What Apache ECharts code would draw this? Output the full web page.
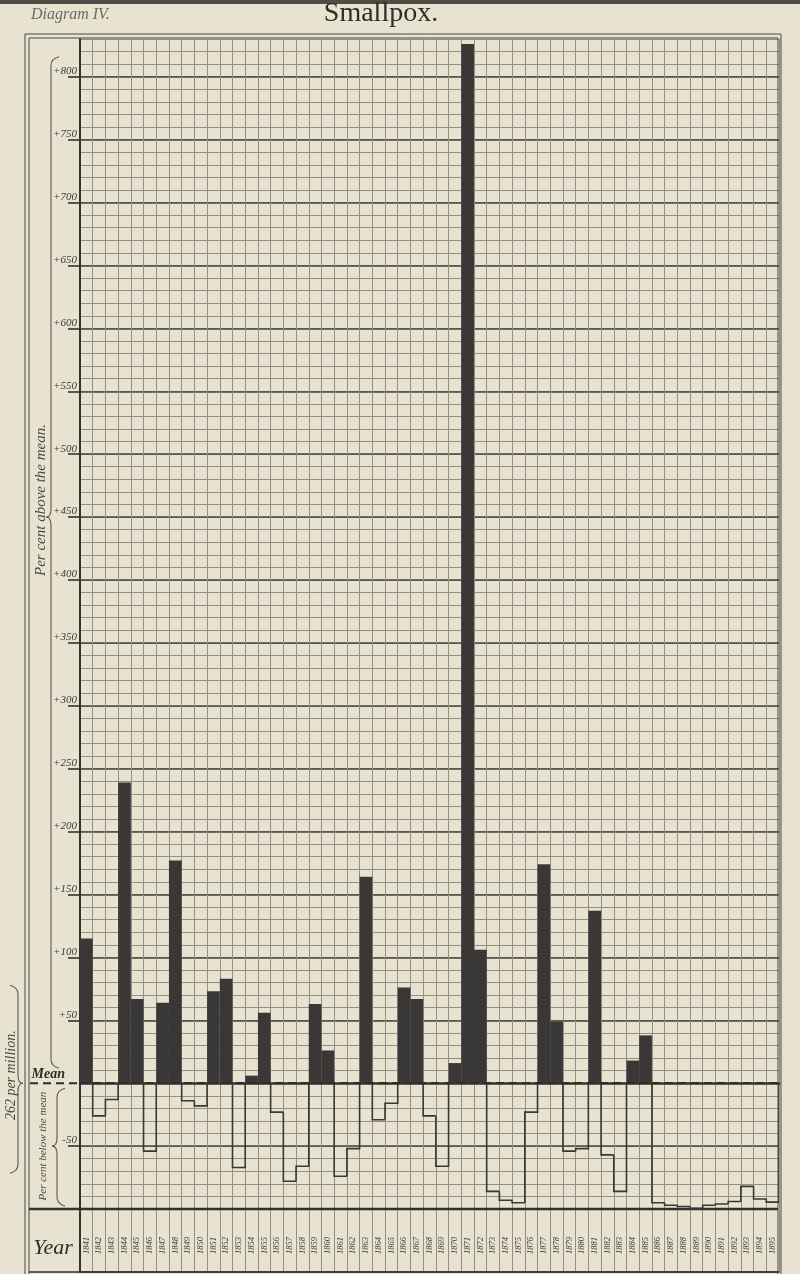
<!DOCTYPE html>
<html><head><meta charset="utf-8">
<script src="https://cdn.jsdelivr.net/npm/echarts@6/dist/echarts.min.js"></script>
<style>html,body{margin:0;padding:0;background:#e8e2d1;}#c{width:800px;height:1274px;}</style>
</head><body><div id="c"></div>
<script>
// ---- data ----
const years = ['1841','1842','1843','1844','1845','1846','1847','1848','1849','1850',
  '1851','1852','1853','1854','1855','1856','1857','1858','1859','1860',
  '1861','1862','1863','1864','1865','1866','1867','1868','1869','1870',
  '1871','1872','1873','1874','1875','1876','1877','1878','1879','1880',
  '1881','1882','1883','1884','1885','1886','1887','1888','1889','1890',
  '1891','1892','1893','1894','1895'];
// per cent above (+) or below (-) the mean of 262 per million
const pctFromMean = [115,-26,-13,239,67,-54,64,177,-14,-18,
  73,83,-67,6,56,-23,-78,-66,63,26,
  -74,-52,164,-29,-16,76,67,-26,-66,16,
  826,106,-86,-93,-95,-23,174,49,-54,-52,
  137,-57,-86,18,38,-95,-97,-98,-99.5,-97,
  -96,-94,-82,-92,-94.5];
const yLabelValues = [-50,0,50,100,150,200,250,300,350,400,450,500,550,600,650,700,750,800];
const yTickValues = [-50,50,100,150,200,250,300,350,400,450,500,550,600,650,700,750,800];
const title = 'Smallpox.';
const diagramLabel = 'Diagram IV.';

// ---- derived ----
const barData = pctFromMean.map(v => v >= 0 ? v : '-');
const stepData = pctFromMean.map((v, i) => [
  i, v,
  i > 0 ? Math.min(pctFromMean[i-1], 0) : 0,
  i < pctFromMean.length - 1 ? Math.min(pctFromMean[i+1], 0) : 0
]);

const INK = '#34312e';
const GRIDC = '#938d83';
const SERIF = '"Liberation Serif", "DejaVu Serif", serif';

const chart = echarts.init(document.getElementById('c'), null, {renderer:'canvas'});
chart.setOption({
  backgroundColor: '#e8e2d1',
  animation: false,
  grid: [
    {left: 80, right: 21, top: 39, bottom: 65},
    {left: 80, right: 21, top: 1210, height: 62}
  ],
  xAxis: [
    {type:'category', gridIndex:0, data: years, boundaryGap: true,
     axisLine:{show:true, lineStyle:{color:INK, width:2.5}},
     axisTick:{show:false}, axisLabel:{show:false},
     splitLine:{show:true, interval:0, lineStyle:{color:GRIDC, width:1}}},
    {type:'category', gridIndex:1, data: years, boundaryGap: true,
     axisLine:{show:true, lineStyle:{color:INK, width:1.5}},
     axisTick:{show:false},
     axisLabel:{show:true, interval:0, rotate:90, inside:true, margin:18,
       fontFamily: SERIF, fontStyle:'italic', fontSize:8.5, color:'#3c3936'},
     splitLine:{show:true, interval:0, lineStyle:{color:GRIDC, width:1}}}
  ],
  yAxis: [
    {type:'value', gridIndex:0, min:-100, max:830, interval:10,
     axisLine:{show:false}, axisTick:{show:false}, axisLabel:{show:false},
     splitLine:{show:true, lineStyle:{color:GRIDC, width:1}}},
    {type:'value', gridIndex:0, min:-100, max:830, interval:50, position:'left',
     axisLine:{show:true, lineStyle:{color:INK, width:2}},
     axisTick:{show:true, length:12, customValues: yTickValues, lineStyle:{color:INK, width:1.6}},
     axisLabel:{show:true, customValues: yLabelValues, margin:3, verticalAlign:'bottom',
       fontFamily: SERIF, fontStyle:'italic', fontSize:11, color:'#3c3936',
       formatter: v => v === 0 ? '{m|Mean}' : (v > 0 ? '+' + v : String(v)),
       rich:{m:{fontFamily: SERIF, fontStyle:'italic', fontWeight:'bold', fontSize:14, color:'#2e2b28', padding:[0,12,2,0]}}},
     splitLine:{show:true, lineStyle:{color:'#4a4641', width:1.6}}},
    {type:'value', gridIndex:1, min:0, max:1,
     axisLine:{show:true, lineStyle:{color:INK, width:2}},
     axisTick:{show:false}, axisLabel:{show:false}, splitLine:{show:false}}
  ],
  series: [
    {type:'bar', xAxisIndex:0, yAxisIndex:0, data: barData, barWidth:'100%', barGap:'0%',
     itemStyle:{color:'#3a3837'},
     markLine:{silent:true, symbol:'none', label:{show:false},
       lineStyle:{color:'#2e2b28', width:2, type:[8,5]},
       data:[{yAxis:0}]}},
    {type:'custom', xAxisIndex:0, yAxisIndex:0, data: stepData, encode:{x:0, y:1},
     clip:true,
     renderItem: function(params, api){
       const i = api.value(0), v = api.value(1);
       if (v >= 0) return null;
       const prev = api.value(2), next = api.value(3);
       const w = api.size([1,0])[0];
       const c = api.coord([i, v]);
       const l = c[0] - w/2, r = c[0] + w/2;
       const yPrev = api.coord([i, prev])[1];
       const yZero = api.coord([i, 0])[1];
       const pts = [[l, yPrev],[l, c[1]],[r, c[1]]];
       if (next >= 0) pts.push([r, yZero]);
       return {type:'polyline', shape:{points:pts},
         style:{stroke:'#3a3734', lineWidth:1.6, fill:null}};
     }}
  ]
});

const yp = v => chart.convertToPixel({yAxisIndex:0}, v);
const yMean = yp(0), y50n = yp(-50), y450 = yp(450), y800 = yp(800), yBot = yp(-100);
const thin = {stroke:'#4a4641', lineWidth:1, fill:null};
const braceStyle = {stroke:'#5a5550', lineWidth:1.1, fill:null};

// curly brace made of lines and quadratic curves; e=+1 -> ends curl right, cusp points left
function brace(x, yTop, yBot, yC, e) {
  const q = (x1,y1,cx,cy,x2,y2) => ({type:'bezierCurve', silent:true, shape:{x1,y1,cpx1:cx,cpy1:cy,x2,y2}, style:braceStyle});
  const l = (x1,y1,x2,y2) => ({type:'line', silent:true, shape:{x1,y1,x2,y2}, style:braceStyle});
  return [
    q(x + e*8, yTop, x, yTop + 2, x, yTop + 9),
    l(x, yTop + 9, x, yC - 8),
    q(x, yC - 8, x, yC, x - e*5, yC),
    q(x - e*5, yC, x, yC, x, yC + 8),
    l(x, yC + 8, x, yBot - 9),
    q(x, yBot - 9, x, yBot - 2, x + e*8, yBot)
  ];
}

const graphics = [
  {type:'rect', shape:{x:0,y:0,width:800,height:4}, style:{fill:'#4f4c48'}, silent:true},
  {type:'polyline', shape:{points:[[25,1274],[25,34],[781,34],[781,1274]]}, style:thin, silent:true},
  {type:'polyline', shape:{points:[[29,1274],[29,38],[778,38],[778,1274]]}, style:thin, silent:true},
  {type:'line', shape:{x1:29,y1:yBot,x2:778,y2:yBot}, style:{stroke:INK, lineWidth:2.5}, silent:true},
  {type:'line', shape:{x1:29,y1:1272,x2:778,y2:1272}, style:{stroke:INK, lineWidth:1.5}, silent:true},
  {type:'line', shape:{x1:30,y1:yMean,x2:80,y2:yMean}, style:{stroke:'#2e2b28', lineWidth:2, lineDash:[8,5]}, silent:true},
  ...brace(51, y800 - 20, yMean - 15, y450, 1),
  ...brace(57, yMean + 5, yBot - 3, y50n, 1),
  ...brace(18, yMean - 98, yMean + 90, yMean, -1),
  {type:'text', x:381, y:14, style:{text:title, font:`28px ${SERIF}`, fill:'#2f2c29', align:'center', verticalAlign:'middle'}, silent:true},
  {type:'text', x:31, y:15, style:{text:diagramLabel, font:`italic 16px ${SERIF}`, fill:'#6e6a65', align:'left', verticalAlign:'middle'}, silent:true},
  {type:'text', x:41, y:500, rotation:Math.PI/2, style:{text:'Per cent above the mean.', font:`italic 15px ${SERIF}`, fill:'#4d4944', align:'center', verticalAlign:'middle'}, silent:true},
  {type:'text', x:11, y:yMean - 8, rotation:Math.PI/2, style:{text:'262 per million.', font:`italic 14px ${SERIF}`, fill:'#4d4944', align:'center', verticalAlign:'middle'}, silent:true},
  {type:'text', x:43, y:y50n, rotation:Math.PI/2, style:{text:'Per cent below the mean', font:`italic 11px ${SERIF}`, fill:'#4d4944', align:'center', verticalAlign:'middle'}, silent:true},
  {type:'text', x:53, y:1248, style:{text:'Year', font:`italic 22px ${SERIF}`, fill:'#2f2c29', align:'center', verticalAlign:'middle'}, silent:true}
];
chart.setOption({graphic: graphics});
</script></body></html>
